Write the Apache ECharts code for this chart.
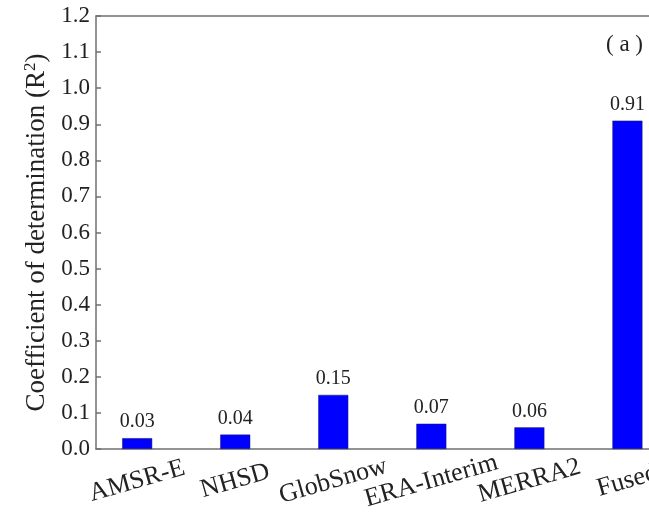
<!DOCTYPE html>
<html>
<head>
<meta charset="utf-8">
<script src="https://cdn.jsdelivr.net/npm/echarts@6/dist/echarts.min.js"></script>
<style>
html,body{margin:0;padding:0;background:#fff;}
#c{width:649px;height:525px;}
</style>
</head>
<body>
<div id="c"></div>
<script>
const categories = ['AMSR-E', 'NHSD', 'GlobSnow', 'ERA-Interim', 'MERRA2', 'Fused'];
const r2Values = [0.03, 0.04, 0.15, 0.07, 0.06, 0.91];
const yTicks = [0.0, 0.1, 0.2, 0.3, 0.4, 0.5, 0.6, 0.7, 0.8, 0.9, 1.0, 1.1, 1.2];

const FONT = '"Liberation Serif", "DejaVu Serif", serif';
const AXIS = '#707070';
const TXT = '#222';

const chart = echarts.init(document.getElementById('c'), null, {renderer: 'canvas'});
chart.setOption({
  animation: false,
  backgroundColor: '#fff',
  grid: {left: 96, top: 16, bottom: 76, right: 0, show: false, containLabel: false, outerBoundsMode: 'none'},
  xAxis: [{
    type: 'value',
    min: -0.42,
    max: 5.22,
    interval: 1,
    splitLine: {show: false},
    axisLine: {show: true, onZero: false, lineStyle: {color: AXIS, width: 1.5}},
    axisTick: {show: false},
    axisLabel: {
      show: true,
      rotate: 16,
      align: 'center',
      verticalAlign: 'middle',
      margin: 32,
      fontFamily: FONT,
      fontSize: 26,
      color: TXT,
      hideOverlap: false,
      showMinLabel: true,
      showMaxLabel: true,
      customValues: categories.map((_, i) => i),
      formatter: v => categories[Math.round(v)] || ''
    }
  }, {
    type: 'value',
    position: 'top',
    min: -0.42,
    max: 5.22,
    splitLine: {show: false},
    axisLine: {show: true, onZero: false, lineStyle: {color: AXIS, width: 1.5}},
    axisTick: {show: false},
    axisLabel: {show: false}
  }],
  yAxis: {
    type: 'value',
    min: 0,
    max: 1.2,
    interval: 0.1,
    splitLine: {show: false},
    axisLine: {show: true, onZero: false, lineStyle: {color: AXIS, width: 1.5}},
    axisTick: {show: true, inside: true, length: 5, lineStyle: {color: AXIS, width: 1.5}},
    axisLabel: {
      margin: 6,
      fontFamily: FONT,
      fontSize: 23,
      color: TXT,
      formatter: v => {
        const t = yTicks.find(x => Math.abs(x - v) < 1e-6);
        return (t !== undefined ? t : v).toFixed(1);
      }
    },
    name: '{a|Coefficient of determination (R}{s|2}{a|)}',
    nameLocation: 'middle',
    nameGap: 44,
    nameTextStyle: {
      rich: {
        a: {fontFamily: FONT, fontSize: 27, color: TXT},
        s: {fontFamily: FONT, fontSize: 17, color: TXT, verticalAlign: 'top', padding: [0, 0, 12, 0]}
      }
    }
  },
  series: [{
    type: 'bar',
    xAxisIndex: 0,
    barWidth: 30,
    data: r2Values.map((v, i) => [i, v]),
    itemStyle: {color: '#0000FF', borderColor: '#1a1a6a', borderWidth: 0.5},
    label: {
      show: true,
      position: 'top',
      distance: 6,
      fontFamily: FONT,
      fontSize: 20,
      color: TXT,
      formatter: p => p.value[1].toFixed(2)
    }
  }],
  graphic: [{
    type: 'text',
    left: 606,
    top: 33,
    style: {text: '( a )', fontFamily: FONT, fontSize: 23, fill: TXT}
  }]
});
</script>
</body>
</html>
